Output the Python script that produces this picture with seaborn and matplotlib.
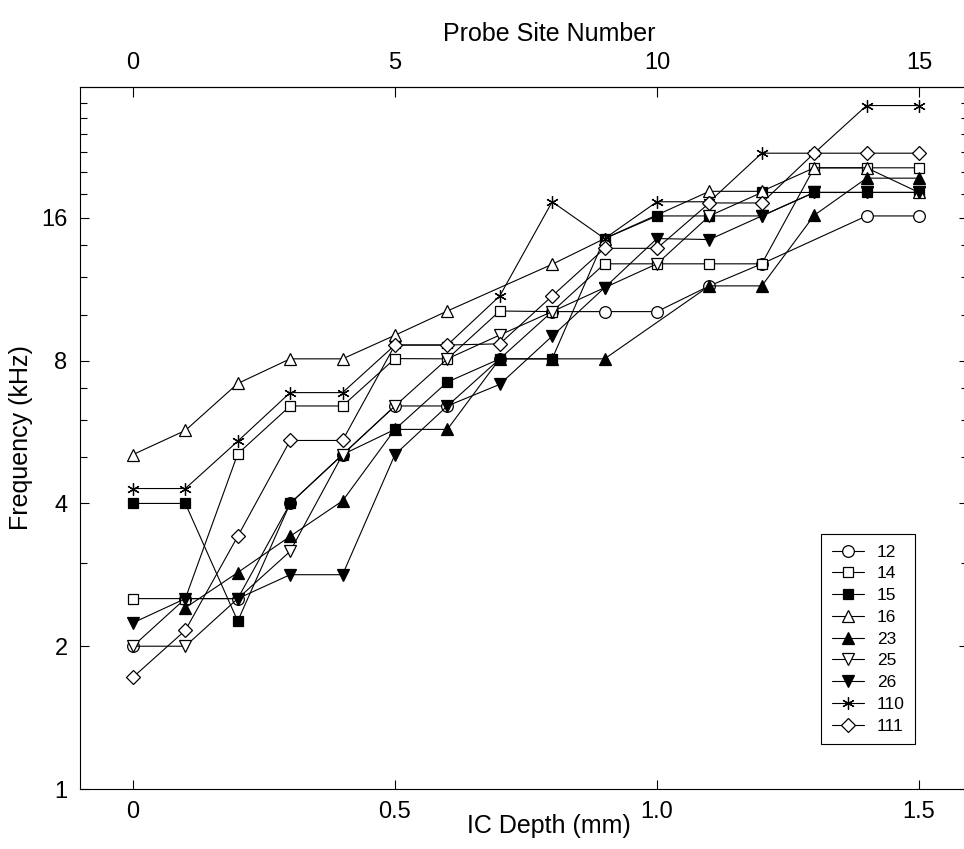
import numpy as np
import pandas as pd
import matplotlib
matplotlib.use("Agg")
import matplotlib.pyplot as plt
from matplotlib.ticker import FixedLocator, NullFormatter
import seaborn as sns

# IC depth (mm) of each probe site; site number = depth * 10
depth = [0.0, 0.1, 0.2, 0.3, 0.4, 0.5, 0.6, 0.7, 0.8, 0.9, 1.0, 1.1, 1.2, 1.3, 1.4, 1.5]

# best frequency (kHz) per animal, NaN where no point was plotted
f12 = [2.0, 2.52, 2.52, 4.0, 5.07, 6.42, 6.42, 8.07, 10.15, 10.15, 10.15, 11.5, 12.8, np.nan, 16.15, 16.15]
f14 = [2.52, 2.52, 5.09, 6.42, 6.42, 8.08, 8.07, 10.18, 10.15, 12.8, 12.8, 12.8, 12.8, 20.4, 20.4, 20.4]
f15 = [4.0, 4.0, 2.26, 4.0, 5.07, 5.73, 7.21, 8.07, 8.07, 14.47, 16.15, 16.15, 18.1, 18.1, 18.1, 18.1]
f16 = [5.07, 5.7, 7.16, 8.07, 8.07, 9.05, 10.18, np.nan, 12.77, 14.47, np.nan, 18.2, 18.2, 20.4, 20.4, 18.1]
f23 = [np.nan, 2.41, 2.86, 3.41, 4.05, 5.73, 5.73, 8.07, 8.07, 8.07, np.nan, 11.5, 11.5, 16.2, 19.4, 19.4]
f25 = [2.0, 2.0, 2.52, 3.17, 5.07, 6.42, 8.07, 9.06, 10.15, 11.4, 12.8, 16.15, 16.15, 18.1, 18.1, 18.1]
f26 = [2.24, 2.52, 2.52, 2.83, 2.83, 5.07, 6.42, 7.13, 9.01, 11.4, 14.47, 14.4, 16.15, 18.1, 18.1, 18.1]
f110 = [4.30, 4.30, 5.41, 6.85, 6.85, 8.63, 8.63, 10.95, 17.3, 14.47, 17.3, 17.3, 21.9, 21.9, 27.6, 27.6]
f111 = [1.72, 2.16, 3.41, 5.43, 5.43, 8.63, 8.63, 8.68, 10.95, 13.8, 13.8, 17.2, 17.2, 21.9, 21.9, 21.9]

animals = ["12", "14", "15", "16", "23", "25", "26", "110", "111"]
series = [f12, f14, f15, f16, f23, f25, f26, f110, f111]

# marker, face colour, size (pt)
styles = {
    "12": ("o", "white", 8.4),
    "14": ("s", "white", 6.7),
    "15": ("s", "black", 6.7),
    "16": ("^", "white", 8.8),
    "23": ("^", "black", 8.8),
    "25": ("v", "white", 8.8),
    "26": ("v", "black", 8.8),
    "110": ((6, 2, 0), "black", 9.0),
    "111": ("D", "white", 7.0),
}

df = pd.concat(
    [pd.DataFrame({"animal": a, "depth": depth, "freq": s}) for a, s in zip(animals, series)],
    ignore_index=True,
)

sns.set_theme(style="ticks")
plt.rcParams["font.family"] = ["Liberation Sans", "DejaVu Sans"]
for key in ["text.color", "axes.labelcolor", "xtick.color", "ytick.color", "axes.edgecolor"]:
    plt.rcParams[key] = "black"

fig = plt.figure(figsize=(9.64, 8.49), dpi=100)
# right spine sits just past the image edge, as in the scan
ax = fig.add_axes([80 / 964, 1 - 789 / 849, 888 / 964, 702 / 849])
ax.set_yscale("log", base=2)

for a in animals:
    sub = df[df["animal"] == a].dropna()
    m, fc, ms = styles[a]
    sns.lineplot(data=sub, x="depth", y="freq", ax=ax, color="black", linewidth=0.8,
                 marker=m, markersize=ms, markerfacecolor=fc, markeredgecolor="black",
                 markeredgewidth=0.9, errorbar=None, label=a)

ax.set_xlim(-0.101, 1.5935)
ax.set_ylim(1, 30.2)

ax.set_yticks([1, 2, 4, 8, 16])
ax.set_yticklabels(["1", "2", "4", "8", "16"])
ax.yaxis.set_minor_locator(FixedLocator([3, 5, 6, 7, 10, 12, 14, 18, 20, 22, 24, 26, 28]))
ax.yaxis.set_minor_formatter(NullFormatter())
ax.set_xticks([0, 0.5, 1.0, 1.5])
ax.set_xticklabels(["0", "0.5", "1.0", "1.5"])

ax.tick_params(which="both", direction="in", right=True, labelsize=17, width=0.8)
ax.tick_params(which="major", length=6.5, pad=9)
ax.tick_params(which="minor", length=5)
for sp in ax.spines.values():
    sp.set_linewidth(0.8)

ax.set_xlabel("IC Depth (mm)", fontsize=18)
ax.xaxis.set_label_coords(0.528, -0.035)
ax.set_ylabel("Frequency (kHz)", fontsize=18, labelpad=6)

top = ax.secondary_xaxis("top", functions=(lambda d: d * 10, lambda s: s / 10))
top.set_xticks([0, 5, 10, 15])
top.set_xticklabels(["0", "5", "10", "15"])
top.tick_params(direction="in", length=7, labelsize=17, pad=9, width=0.8)
top.set_xlabel("Probe Site Number", fontsize=18, labelpad=8)
top.xaxis.label.set_x(0.528)
top.spines["top"].set_linewidth(0.8)

leg = ax.legend(loc="lower right", bbox_to_anchor=(835 / 888, 45 / 702), borderaxespad=0,
                fontsize=12.5, frameon=True, fancybox=False, edgecolor="black",
                framealpha=1, handlelength=1.85, handletextpad=0.75, labelspacing=0.38,
                borderpad=0.6)
leg.get_frame().set_linewidth(0.8)

fig.savefig("out.png", dpi=100)
